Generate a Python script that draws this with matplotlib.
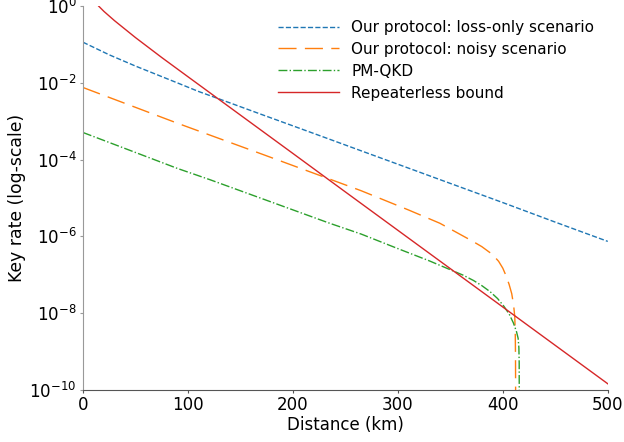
import matplotlib
matplotlib.use("Agg")
import matplotlib.pyplot as plt
import numpy as np

# Distances (km) and key rates
loss_only_km = [0, 25, 50, 70, 90, 110, 130, 170, 200, 235, 265, 300, 350, 400, 450, 500]
loss_only_rate = [1.15e-1, 5.4e-2, 2.75e-2, 1.66e-2, 1.0e-2, 6.0e-3, 3.8e-3, 1.51e-3,
                  7.6e-4, 3.4e-4, 1.7e-4, 7.6e-5, 2.4e-5, 7.6e-6, 2.35e-6, 7.4e-7]

noisy_km = [0, 90, 170, 230, 265, 310, 340, 370, 380, 390, 396, 400, 403, 406, 408.5,
            410.3, 411.4, 411.9, 412.1, 412.3]
noisy_rate = [7.6e-3, 8.9e-4, 1.41e-4, 3.5e-5, 1.55e-5, 4.9e-6, 2.2e-6, 7.8e-7, 5.4e-7,
              3.4e-7, 2.24e-7, 1.48e-7, 9.5e-8, 5.6e-8, 3.2e-8, 1.6e-8, 7.9e-9, 2.5e-9,
              6.3e-10, 1e-11]

pmqkd_km = [0, 90, 121, 235, 265, 300, 330, 350, 362, 372, 380, 388, 395, 401, 406, 410,
            413, 414.6, 415.3, 415.6, 415.7]
pmqkd_rate = [5.1e-4, 5.9e-5, 3.0e-5, 2.2e-6, 1.15e-6, 4.8e-7, 2.3e-7, 1.35e-7, 9.8e-8,
              7.1e-8, 5.2e-8, 3.6e-8, 2.4e-8, 1.51e-8, 9.5e-9, 5.6e-9, 3.3e-9, 2.2e-9,
              1.26e-9, 5.0e-10, 1e-11]

bound_km = [10, 15, 20, 30, 50, 75, 100, 150, 200, 250, 300, 350, 400, 450, 500]
bound_rate = [1.45, 1.0, 0.73, 0.42, 0.152, 4.6e-2, 1.45e-2, 1.45e-3, 1.45e-4, 1.44e-5,
              1.44e-6, 1.44e-7, 1.44e-8, 1.44e-9, 1.44e-10]

labels = ["Our protocol: loss-only scenario", "Our protocol: noisy scenario",
          "PM-QKD", "Repeaterless bound"]

x_ticks = [0, 100, 200, 300, 400, 500]
y_ticks = [1e0, 1e-2, 1e-4, 1e-6, 1e-8, 1e-10]

fig = plt.figure(figsize=(6.24, 4.42), dpi=100)
ax = fig.add_axes([0.133, 0.118, 0.841, 0.868])

ax.plot(loss_only_km, loss_only_rate, color="#1f77b4", lw=1.0, linestyle="--", label=labels[0])
ax.plot(noisy_km, noisy_rate, color="#ff7f0e", lw=1.0, linestyle=(0, (13, 6)), label=labels[1])
ax.plot(pmqkd_km, pmqkd_rate, color="#2ca02c", lw=1.0, linestyle="-.", label=labels[2])
ax.plot(bound_km, bound_rate, color="#d62728", lw=1.0, linestyle="-", label=labels[3])

ax.set_yscale("log")
ax.set_xlim(0, 500)
ax.set_ylim(1e-10, 1e0)
ax.set_xticks(x_ticks)
ax.set_yticks(y_ticks)
ax.yaxis.set_minor_locator(matplotlib.ticker.NullLocator())
ax.tick_params(labelsize=12, length=2.5, pad=2.2)
ax.tick_params(axis="y", color="#999999")
ax.tick_params(axis="x", color="#555555")

ax.spines["top"].set_visible(False)
ax.spines["right"].set_visible(False)
ax.spines["left"].set_color("#999999")
ax.spines["bottom"].set_color("#555555")

ax.set_xlabel("Distance (km)", fontsize=12, labelpad=1.5)
ax.set_ylabel("Key rate (log-scale)", fontsize=12.4, labelpad=2.5)

ax.legend(loc="upper right", frameon=False, fontsize=11, handlelength=4, labelspacing=0.45)

fig.savefig("out.png", dpi=100)
